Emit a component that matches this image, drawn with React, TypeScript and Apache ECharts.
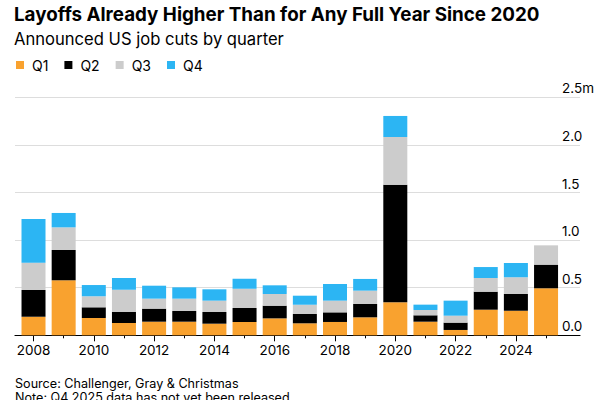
import React, { useEffect, useRef } from "react";
import * as echarts from "echarts";

const years = [2008, 2009, 2010, 2011, 2012, 2013, 2014, 2015, 2016, 2017, 2018, 2019, 2020, 2021, 2022, 2023, 2024, 2025];
const q1 = [0.195, 0.578, 0.182, 0.129, 0.143, 0.143, 0.122, 0.140, 0.178, 0.126, 0.140, 0.189, 0.347, 0.143, 0.056, 0.269, 0.258, 0.494];
const q2 = [0.281, 0.318, 0.112, 0.116, 0.137, 0.112, 0.123, 0.147, 0.133, 0.098, 0.101, 0.140, 1.235, 0.067, 0.077, 0.189, 0.176, 0.248];
const q3 = [0.287, 0.238, 0.116, 0.234, 0.105, 0.130, 0.119, 0.203, 0.123, 0.097, 0.123, 0.140, 0.501, 0.056, 0.073, 0.144, 0.175, 0.203];
const q4 = [0.459, 0.151, 0.118, 0.123, 0.136, 0.119, 0.119, 0.105, 0.091, 0.095, 0.175, 0.123, 0.221, 0.056, 0.158, 0.115, 0.150, null];
const seriesNames = ["Q1", "Q2", "Q3", "Q4"];
const colors = ["#F9A22F", "#000000", "#CCCCCC", "#2CB5F3"];
const labelYears = [2008, 2010, 2012, 2014, 2016, 2018, 2020, 2022, 2024];
const minorYears = [2009, 2011, 2013, 2015, 2017, 2019, 2021, 2023, 2025];

const FONT = "Inter, 'Liberation Sans', Arial, sans-serif";

export default function App() {
  const ref = useRef<HTMLDivElement>(null);
  useEffect(() => {
    if (!ref.current) return;
    const chart = echarts.init(ref.current, null, { renderer: "svg" });
    const all = [q1, q2, q3, q4];
    const xMin = 2007.386;
    const xMax = 2026.126;
    chart.setOption({
      animation: false,
      backgroundColor: "#ffffff",
      textStyle: { fontFamily: FONT },
      title: [
        {
          text: "Layoffs Already Higher Than for Any Full Year Since 2020",
          left: 14,
          top: 5,
          padding: 0,
          textStyle: { fontFamily: FONT, fontSize: 18.8, fontWeight: 700, color: "#000" },
        },
        {
          text: "Announced US job cuts by quarter",
          left: 14,
          top: 30,
          padding: 0,
          textStyle: { fontFamily: FONT, fontSize: 16.6, fontWeight: 400, color: "#000" },
        },
      ],
      legend: {
        data: seriesNames,
        left: 16,
        top: 58,
        padding: 0,
        icon: "rect",
        itemWidth: 8,
        itemHeight: 8,
        itemGap: 16,
        textStyle: { fontFamily: FONT, fontSize: 14, color: "#000", padding: [0, 0, 0, 3] },
      },
      grid: { left: 15, right: 20, top: 97.3, bottom: 64.7, containLabel: false },
      xAxis: [
        {
          type: "value",
          min: xMin,
          max: xMax,
          position: "bottom",
          splitLine: { show: false },
          axisLine: { show: true, lineStyle: { color: "#000", width: 1.2 } },
          axisTick: { show: true, customValues: labelYears, length: 6, lineStyle: { color: "#000", width: 1 } },
          axisLabel: {
            show: true,
            customValues: labelYears,
            margin: 8,
            fontFamily: FONT,
            fontSize: 13.5,
            color: "#000",
            formatter: (v: number) => String(Math.round(v)),
          },
        },
        {
          type: "value",
          min: xMin,
          max: xMax,
          position: "bottom",
          splitLine: { show: false },
          axisLine: { show: false },
          axisTick: { show: true, customValues: minorYears, length: 3, lineStyle: { color: "#000", width: 1 } },
          axisLabel: { show: false },
        },
      ],
      yAxis: {
        type: "value",
        position: "right",
        min: 0,
        max: 2.5,
        interval: 0.5,
        axisLine: { show: false },
        axisTick: { show: false },
        splitLine: { show: true, lineStyle: { color: "#DDDDDD", width: 1 } },
        axisLabel: {
          inside: true,
          margin: 18,
          align: "left",
          verticalAlign: "bottom",
          padding: [0, 0, 2, 0],
          fontFamily: FONT,
          fontSize: 13.5,
          color: "#000",
          formatter: (v: number) => (Math.abs(v - 2.5) < 1e-9 ? "2.5m" : v.toFixed(1)),
        },
      },
      series: all.map((arr, k) => ({
        name: seriesNames[k],
        type: "bar",
        stack: "total",
        xAxisIndex: 0,
        barWidth: 24,
        encode: { x: 1, y: 0 },
        itemStyle: { color: colors[k] },
        emphasis: { disabled: true },
        data: years.map((y, i) => [arr[i] == null ? "-" : arr[i], y]),
      })),
      graphic: [
        {
          type: "text",
          left: 15,
          top: 377,
          style: { text: "Source: Challenger, Gray & Christmas", font: `12.6px ${FONT}`, fill: "#000" },
        },
        {
          type: "text",
          left: 15,
          top: 391,
          style: { text: "Note: Q4 2025 data has not yet been released", font: `12.6px ${FONT}`, fill: "#000" },
        },
      ],
    });
    return () => chart.dispose();
  }, []);
  return (
    <div
      ref={ref}
      style={{ position: "fixed", left: 0, top: 0, width: 600, height: 400, background: "#fff" }}
    />
  );
}
